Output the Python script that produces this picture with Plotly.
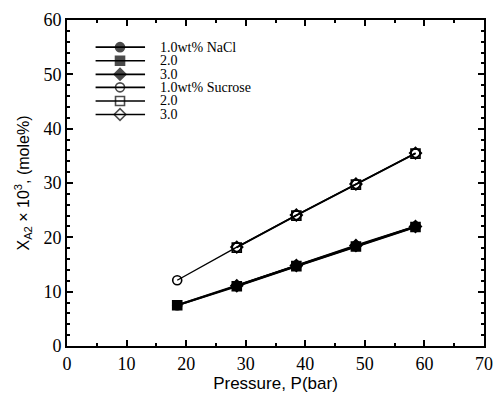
import plotly.graph_objects as go

pressure = [18.5, 28.5, 38.5, 48.5, 58.5]
nacl_1 = [7.5, 11.1, 14.8, 18.4, 22.0]
nacl_2 = [7.5, 11.0, 14.7, 18.3, 21.9]
nacl_3 = [None, 11.1, 14.8, 18.5, 22.0]
suc_1 = [12.1, 18.2, 24.1, 29.8, 35.5]
suc_2 = [None, 18.1, 24.0, 29.7, 35.4]
suc_3 = [None, 18.2, 24.1, 29.8, 35.5]
legend_labels = ["1.0wt% NaCl", "2.0", "3.0", "1.0wt% Sucrose", "2.0", "3.0"]
x_ticks = [0, 10, 20, 30, 40, 50, 60, 70]
y_ticks = [0, 10, 20, 30, 40, 50, 60]

series = [
    (nacl_1, "circle", 2.2),
    (nacl_3, "diamond", 2.2),
    (nacl_2, "square", 2.2),
    (suc_1, "circle-open", 1.4),
    (suc_2, "square-open", 1.4),
    (suc_3, "diamond-open", 1.4),
]
legend_symbols = ["circle", "square", "diamond", "circle-open", "square-open", "diamond-open"]

fig = go.Figure()
for vals, sym, lw in series:
    fig.add_trace(go.Scatter(
        x=pressure, y=vals, mode="lines+markers", connectgaps=False,
        line=dict(color="black", width=lw),
        marker=dict(symbol=sym, size=9, color="black",
                    line=dict(color="black", width=1.6)),
        showlegend=False, cliponaxis=False))

# hand-drawn legend (top-left)
leg_y = [55.0, 52.5, 50.0, 47.6, 45.1, 42.6]
for lab, sym, yy in zip(legend_labels, legend_symbols, leg_y):
    fig.add_trace(go.Scatter(
        x=[4.8, 8.9, 13.1], y=[yy, yy, yy], mode="lines+markers",
        line=dict(color="black", width=1.6),
        marker=dict(symbol=sym, size=[0, 9, 0], color="black",
                    line=dict(color="black", width=1.6)),
        showlegend=False, hoverinfo="skip"))
    fig.add_annotation(x=15.4, y=yy, text=lab, showarrow=False,
                       xanchor="left", yanchor="middle", borderpad=0,
                       font=dict(family="Liberation Serif", size=14, color="black"))

axis_common = dict(
    showgrid=False, zeroline=False, showline=True, linecolor="black", linewidth=2,
    ticks="inside", ticklen=6, tickwidth=1.5, tickcolor="black", mirror="allticks",
    tickfont=dict(family="Liberation Serif", size=18, color="black"),
)
fig.update_xaxes(range=[0, 70], tickvals=x_ticks,
                 minor=dict(dtick=5, ticks="inside", ticklen=3, tickcolor="black"),
                 title=dict(text="Pressure, P(bar)", standoff=4,
                            font=dict(family="Liberation Sans", size=17, color="black")),
                 **axis_common)
fig.update_yaxes(range=[0, 60], tickvals=y_ticks,
                 minor=dict(dtick=2, ticks="inside", ticklen=3, tickcolor="black"),
                 title=dict(text="X<sub>A2</sub> × 10<sup>3</sup>, (mole%)", standoff=10,
                            font=dict(family="Liberation Sans", size=16, color="black")),
                 **axis_common)
fig.update_layout(
    width=503, height=399,
    margin=dict(l=67, r=10, t=15, b=52),
    paper_bgcolor="white", plot_bgcolor="white",
    showlegend=False,
)
fig.write_html("out.html")
